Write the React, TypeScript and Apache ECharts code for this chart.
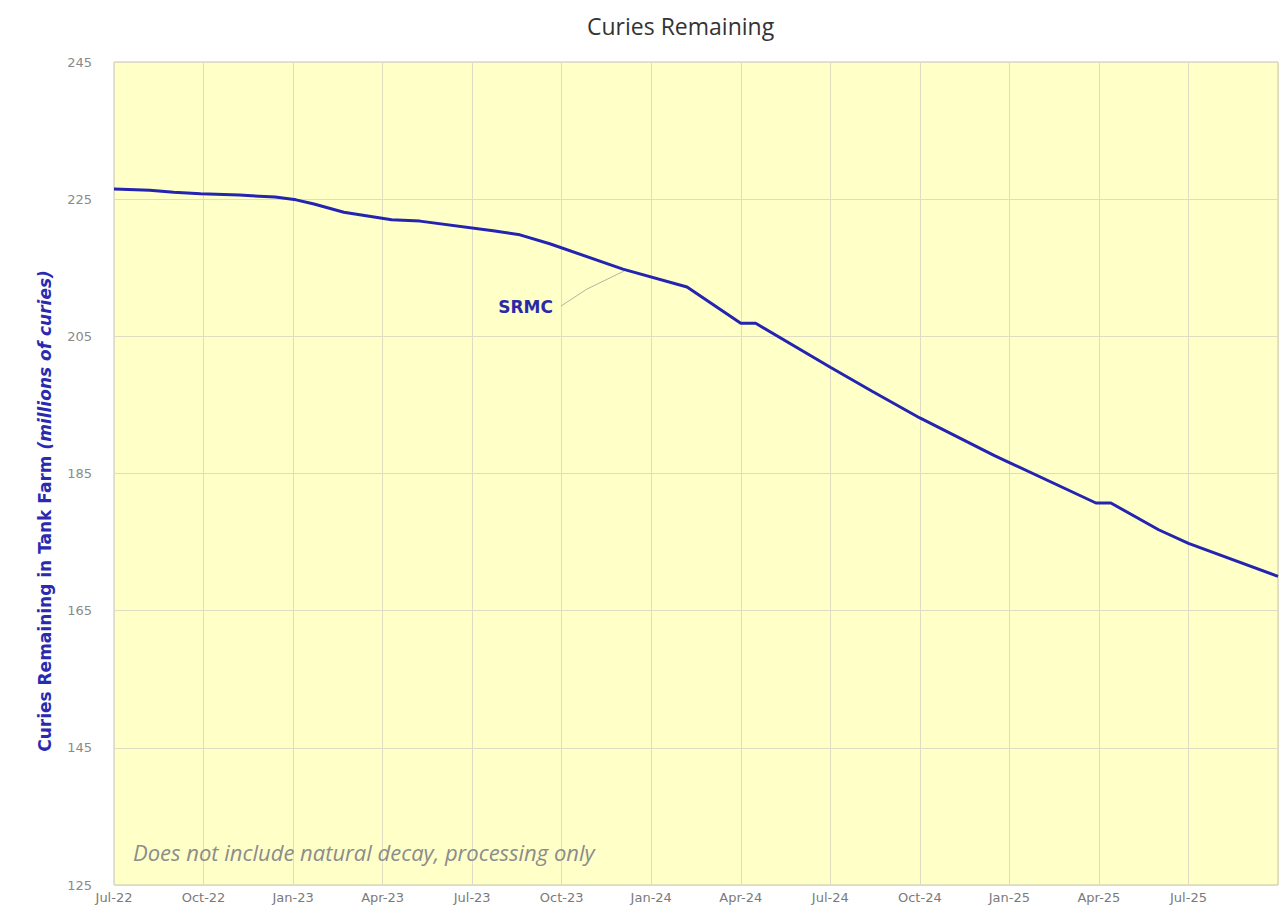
import React, { useEffect, useRef } from "react";
import * as echarts from "echarts";

// Quarter tick labels (month index 0 = Jul-22, every 3 months)
const xTickLabels = [
  "Jul-22", "Oct-22", "Jan-23", "Apr-23", "Jul-23", "Oct-23", "Jan-24",
  "Apr-24", "Jul-24", "Oct-24", "Jan-25", "Apr-25", "Jul-25",
];
const yTickValues = [125, 145, 165, 185, 205, 225, 245];

// Months since Jul-22
const months = [
  0, 1.2, 2.0, 2.9, 4.2, 5.4, 6.1, 6.7, 7.7, 9.3, 10.25, 12.7, 13.6, 14.6,
  17.05, 19.2, 21.0, 21.5, 24, 25.4, 27, 29.5, 30, 32.9, 33.4, 35.0, 36, 39,
];
// Curies remaining (millions)
const curies = [
  226.5, 226.3, 226.0, 225.8, 225.6, 225.3, 224.9, 224.3, 223.1, 222.0, 221.8,
  220.4, 219.8, 218.5, 214.8, 212.2, 206.9, 206.9, 200.5, 197.0, 193.1, 187.6,
  186.6, 180.7, 180.7, 176.8, 174.8, 170.0,
];

const seriesName = "SRMC";
const titleText = "Curies Remaining";
const noteText = "Does not include natural decay, processing only";
const yTitleMain = "Curies Remaining in Tank Farm ";
const yTitleItalic = "(millions of curies)";
const labelAnchor = [17.05, 214.8];

export default function App() {
  const ref = useRef<HTMLDivElement>(null);
  useEffect(() => {
    const chart = echarts.init(ref.current!, null, { renderer: "svg" });
    const data = months.map((m, i) => [m, curies[i]]);
    chart.setOption({
      animation: false,
      backgroundColor: "#ffffff",
      title: {
        text: titleText,
        left: 582,
        top: 9,
        textStyle: {
          fontFamily: "Open Sans",
          fontSize: 23,
          fontWeight: "normal",
          color: "#333333",
        },
      },
      grid: {
        left: 114,
        right: 8,
        top: 62,
        bottom: 36,
        show: true,
        backgroundColor: "#FFFFC8",
        borderColor: "#C4C4B0",
        borderWidth: 1,
      },
      xAxis: {
        type: "value",
        min: 0,
        max: 39,
        interval: 3,
        axisLine: { show: false },
        axisTick: { show: false },
        axisLabel: {
          formatter: (v: number) => xTickLabels[Math.round(v / 3)] ?? "",
          color: "#7a7a7a",
          fontFamily: "DejaVu Sans",
          fontSize: 13,
          margin: 6,
        },
        splitLine: { lineStyle: { color: "#E0DCC4", width: 1 } },
      },
      yAxis: {
        type: "value",
        min: 125,
        max: 245,
        axisLine: { show: false },
        axisTick: { show: false, customValues: yTickValues },
        axisLabel: {
          customValues: yTickValues,
          color: "#8a8a8a",
          fontFamily: "DejaVu Sans",
          fontSize: 13,
          margin: 22,
        },
        splitLine: { lineStyle: { color: "#E0DCC4", width: 1 } },
      },
      series: [
        {
          type: "line",
          name: seriesName,
          data,
          symbol: "none",
          lineStyle: { color: "#2424B0", width: 3 },
        },
      ],
    });

    const p = chart.convertToPixel({ gridIndex: 0 }, labelAnchor) as number[];
    chart.setOption({
      graphic: [
        {
          type: "polyline",
          shape: {
            points: [
              [p[0] + 1, p[1] + 2],
              [p[0] - 36, p[1] + 20],
              [p[0] - 62, p[1] + 37],
            ],
          },
          style: { stroke: "#B4B4A4", lineWidth: 1, fill: null },
        },
        {
          type: "text",
          x: p[0] - 70,
          y: p[1] + 38,
          style: {
            text: seriesName,
            fontFamily: "DejaVu Sans",
            fontWeight: "bold",
            fontSize: 17,
            fill: "#2A2AA8",
            align: "right",
            verticalAlign: "middle",
          },
        },
        {
          type: "text",
          x: 133,
          y: 852,
          style: {
            text: noteText,
            fontFamily: "Open Sans",
            fontStyle: "italic",
            fontSize: 22,
            fill: "#8c8c8c",
            align: "left",
            verticalAlign: "middle",
          },
        },
        {
          type: "text",
          x: 45,
          y: 511,
          rotation: Math.PI / 2,
          style: {
            text: `{b|${yTitleMain}}{bi|${yTitleItalic}}`,
            align: "center",
            verticalAlign: "middle",
            rich: {
              b: {
                fontFamily: "DejaVu Sans",
                fontWeight: "bold",
                fontSize: 17,
                fill: "#2A2AB0",
              },
              bi: {
                fontFamily: "DejaVu Sans",
                fontWeight: "bold",
                fontStyle: "italic",
                fontSize: 17,
                fill: "#2A2AB0",
              },
            },
          },
        },
      ],
    });
    return () => chart.dispose();
  }, []);
  return (
    <div
      ref={ref}
      style={{ position: "fixed", left: 0, top: 0, width: 1286, height: 921 }}
    />
  );
}
